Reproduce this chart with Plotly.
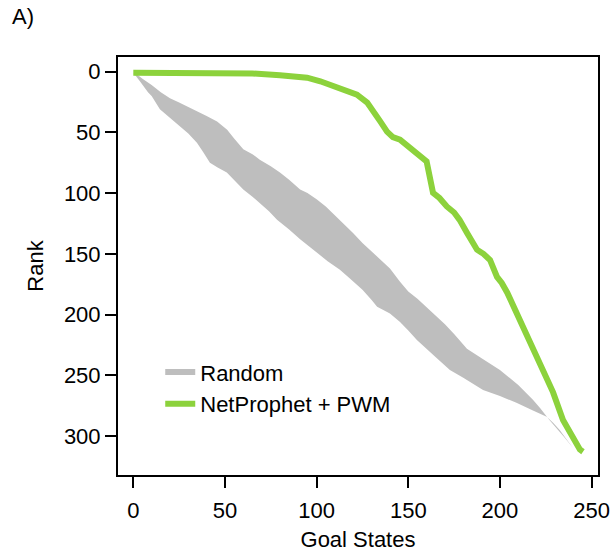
import plotly.graph_objects as go

# NetProphet + PWM curve (goal states vs rank)
np_x = [0, 20, 40, 54.5, 65, 80, 94.8, 102, 109, 118, 122, 127.6, 131, 133, 134.7, 138.4, 141.6,
        145.5, 150, 154.7, 160, 161.5, 163.5, 167, 171, 175, 178, 182, 187.5, 191, 194.6, 198.4,
        201, 204, 209, 212.6, 218, 223.5, 229, 234.4, 238, 243.6, 245.3]
np_rank = [1, 1, 1, 1, 1.5, 3, 5, 8, 12, 16.5, 19, 25.5, 32, 37, 41, 49.4, 54,
           56, 62, 68, 74, 85, 99.7, 104, 111, 116, 122, 132.6, 146.6, 150, 155, 169,
           174, 182, 198.5, 210, 229, 248, 264, 286.7, 297, 311, 312.8]

# Random band: upper (best rank) and lower (worst rank) edges
rand_up_x = [0, 2, 5, 10, 15, 18.4, 20, 25, 30, 36.4, 40, 45.7, 51.2, 55, 60, 65, 69, 75,
             80, 85, 91, 95, 100, 105, 112.7, 120, 125, 130, 136, 140, 145.5, 150, 155,
             163.5, 170, 175, 182, 190, 200, 210, 218, 222, 227, 235, 240, 243]
rand_up_y = [1, 2.5, 6, 11, 17, 20.6, 22, 25.5, 29, 33.8, 36.5, 41, 47.8, 55, 64, 68, 72.5, 78,
             83, 89, 97, 100, 105, 111, 122, 133, 141, 148, 157, 162, 173, 181, 187,
             198.5, 208, 216, 228, 236, 245.5, 258, 270, 277, 286.7, 300.7, 310, 317]
rand_lo_x = [0, 3.6, 8, 10, 14.5, 20, 25.5, 30, 34.7, 38, 41.8, 46, 51, 55, 60, 65, 69, 74,
             78.4, 85, 91, 95, 100, 106, 112.7, 118, 125, 130, 133, 140, 145.5, 150, 154.7,
             160, 165, 172.7, 180, 190.8, 200, 209, 218, 225.5, 229, 232.6, 236, 240, 243]
rand_lo_y = [1, 8, 17, 20, 31, 38, 45, 51, 58.5, 66, 75, 79, 83, 89, 97, 103, 108, 115,
             122, 130, 138, 143, 149, 156, 163, 170, 179.6, 188, 193.6, 199, 206, 213, 221,
             228, 235, 245.5, 252, 262, 267, 272.6, 279, 284, 289, 295, 302, 310, 317]

x_ticks = [0, 50, 100, 150, 200, 250]
y_ticks = [0, 50, 100, 150, 200, 250, 300]

GRAY = "#BEBEBE"
GREEN = "#8CD23C"
FONT = "Liberation Sans, Arial, Helvetica, sans-serif"

fig = go.Figure()

band_x = rand_up_x + rand_lo_x[::-1]
band_y = rand_up_y + rand_lo_y[::-1]
fig.add_trace(go.Scatter(x=band_x, y=band_y, fill="toself", fillcolor=GRAY,
                         mode="lines", line=dict(width=0, color=GRAY),
                         showlegend=False, hoverinfo="skip"))
# legend proxy for the band
fig.add_trace(go.Scatter(x=[None], y=[None], mode="lines", name="Random",
                         line=dict(color=GRAY, width=6)))
fig.add_trace(go.Scatter(x=np_x, y=np_rank, mode="lines", name="NetProphet + PWM",
                         line=dict(color=GREEN, width=6)))

axis_common = dict(showline=True, linecolor="black", linewidth=2, mirror=True,
                   ticks="outside", ticklen=11, tickwidth=2, tickcolor="black",
                   showgrid=False, zeroline=False, automargin=False,
                   tickfont=dict(size=22, color="black", family=FONT))

fig.update_xaxes(range=[-8.35, 253.5], tickvals=x_ticks, ticklabelstandoff=4,
                 title=dict(text="Goal States", font=dict(size=22, color="black", family=FONT),
                            standoff=18),
                 **axis_common)
fig.update_yaxes(range=[332, -12], tickvals=y_ticks,
                 title=dict(text="Rank", font=dict(size=22, color="black", family=FONT),
                            standoff=14),
                 **axis_common)

fig.update_layout(
    width=613, height=552,
    margin=dict(l=118, r=15, t=57, b=77),
    paper_bgcolor="white", plot_bgcolor="white",
    font=dict(family=FONT, size=22, color="black"),
    legend=dict(x=0.088, y=0.296, xanchor="left", yanchor="top",
                bgcolor="rgba(0,0,0,0)", font=dict(size=22, color="black", family=FONT),
                tracegroupgap=0),
    annotations=[dict(text="A)", xref="paper", yref="paper",
                      x=-118/480 + 10/480, y=1 + (57 - 17)/418,
                      xanchor="left", yanchor="middle", showarrow=False,
                      font=dict(size=22, color="black", family=FONT))],
)

fig.write_html("out.html", config={"displayModeBar": False},
               post_script="document.body.style.margin='0';")
